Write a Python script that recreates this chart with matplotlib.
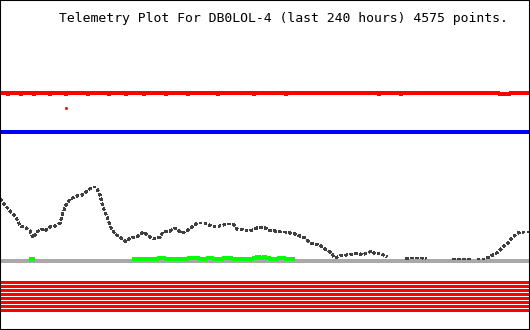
import numpy as np
import matplotlib
matplotlib.use("Agg")
import matplotlib.pyplot as plt

nan = np.nan

# black trace (hours, value)
blk_h = [0.0, 2.3, 4.5, 7.2, 9.1, 11.3, 13.6, 14.9, 16.8, 19.0, 20.4, 22.6, 24.9, 27.2,
         28.5, 29.9, 31.7, 34.9, 37.1, 39.4, 41.7, 43.5, 45.3, 46.6, 48.5, 50.3, 52.1,
         54.3, 57.1, 58.9, 62.0, 64.8, 67.9, 70.2, 72.5, 73.8, 77.0, 79.2, 82.4, 84.7,
         86.9, 89.2, 92.8, 96.5, 99.6, 102.8, 105.5, 107.3, 110.0, 113.2, 116.4, 119.1,
         121.8, 124.5, 126.8, 129.1, 131.3, 133.6, 135.8, 138.1, 140.4, 142.6, 144.9,
         147.2, 149.4, 150.3, 151.7, 153.9, 157.1, 159.8, 162.1, 163.9, 166.2, 168.4,
         169.8, 172.1, 174.3, 175.2, 179.3, 183.8, 185.2, 188.4, 191.5, 192.9, 199.2,
         205.1, 213.7, 215.1, 216.0, 219.6, 220.5, 223.2, 225.5, 227.7, 230.0, 232.3,
         234.6, 236.8, 239.5]
blk_v = [131, 125, 119, 113, 104, 103, 99, 92, 98, 101, 99, 103, 104, 107,
         117, 125, 131, 134, 135, 139, 143, 143, 135, 123, 113, 102, 96,
         93, 88, 92, 93, 98, 93, 91, 93, 98, 99, 102, 97, 99,
         103, 107, 107, 103, 104, 106, 106, 101, 100, 99, 102, 103,
         100, 99, 98, 98, 97, 96, 94, 92, 87, 86, 85,
         81, 78, 76, 72, 74, 75, 76, 77, 75, 77, 79,
         76, 77, 74, 73, nan, 71, 72, 72, 72, 71, nan,
         71, 71, nan, 71, 71, 72, 75, 78, 83, 87, 93,
         97, 98, 98]

# green trace
grn_h = [14.0, 14.9, 15.0, 60.7, 68.8, 70.2, 71.5, 73.8, 74.7, 84.2, 85.1, 89.2, 90.1,
         93.7, 96.0, 96.5, 101.0, 104.2, 105.1, 113.2, 114.6, 115.9, 117.7, 119.1,
         120.5, 121.3, 122.3, 125.9, 128.1, 129.1, 132.7]
grn_v = [71, 71, nan, 71, 71, 71.5, 72, 72, 71, 71, 72, 72, 71,
         72, 72, 71, 72, 72, 71, 71, 72, 73, 72.5, 73,
         72, 72, 71, 72, 72, 71, 71]

# red trace near the top
red_h = [0, 3.2, 4.1, 9.1, 10.0, 15.0, 15.9, 22.2, 23.1, 29.4, 30.3, 39.4, 40.3, 48.9,
         49.8, 56.6, 57.5, 64.8, 65.7, 74.7, 75.6, 84.7, 85.6, 98.3, 99.2, 114.6, 115.5,
         129.1, 130.0, 171.2, 172.1, 181.1, 182.0, 192.0, 197.9, 225.1, 226.0, 231.0,
         231.9, 240]
red_v = [237, 236, 237, 236, 237, 236, 237, 236, 237, 236, 237, 236, 237, 236,
         237, 236, 237, 236, 237, 236, 237, 236, 237, 236, 237, 236, 237,
         236, 237, 236, 237, 236, 237, 237, 236.6, 237, 236, 237,
         237, 237]
red_dot = (29.9, 222)

blue_level = 198
base_level = 69.5
band_levels = [48.5, 44.5, 40.5, 36.5, 32.5, 28.5, 24.5, 20.5]

title = "Telemetry Plot For DB0LOL-4 (last 240 hours) 4575 points."

fig = plt.figure(figsize=(5.3, 3.3), dpi=100)
ax = fig.add_axes([0, 0, 1, 1])
ax.set_xlim(0, 240)
ax.set_ylim(0, 330)
ax.set_xticks([])
ax.set_yticks([])
for sp in ax.spines.values():
    sp.set_linewidth(1.5)
    sp.set_color("black")

lw = 1.5
for lev in band_levels:
    ax.axhline(lev, color="#ff0000", lw=2.05, antialiased=False)
ax.axhline(base_level, color="#a8a8a8", lw=lw, antialiased=False)
ax.axhline(blue_level, color="#0000ff", lw=lw, antialiased=False)
ax.plot(red_h, red_v, color="#ff0000", lw=lw, drawstyle="steps-post", antialiased=False)
ax.plot([red_dot[0]], [red_dot[1]], ls="none", marker="s", ms=1, color="#ff0000")
ax.plot(grn_h, grn_v, color="#00ff00", lw=lw, drawstyle="steps-post", antialiased=False)
ax.plot(blk_h, blk_v, color="#404040", lw=1.3, ls=(0, (1.4, 1.3)),
        dash_capstyle="butt", antialiased=False)

ax.text(508 / 530, 1 - 22 / 330, title, transform=ax.transAxes, ha="right",
        va="baseline", fontsize=9.45, family="DejaVu Sans Mono", color="black")

fig.savefig("out.png", dpi=100)
